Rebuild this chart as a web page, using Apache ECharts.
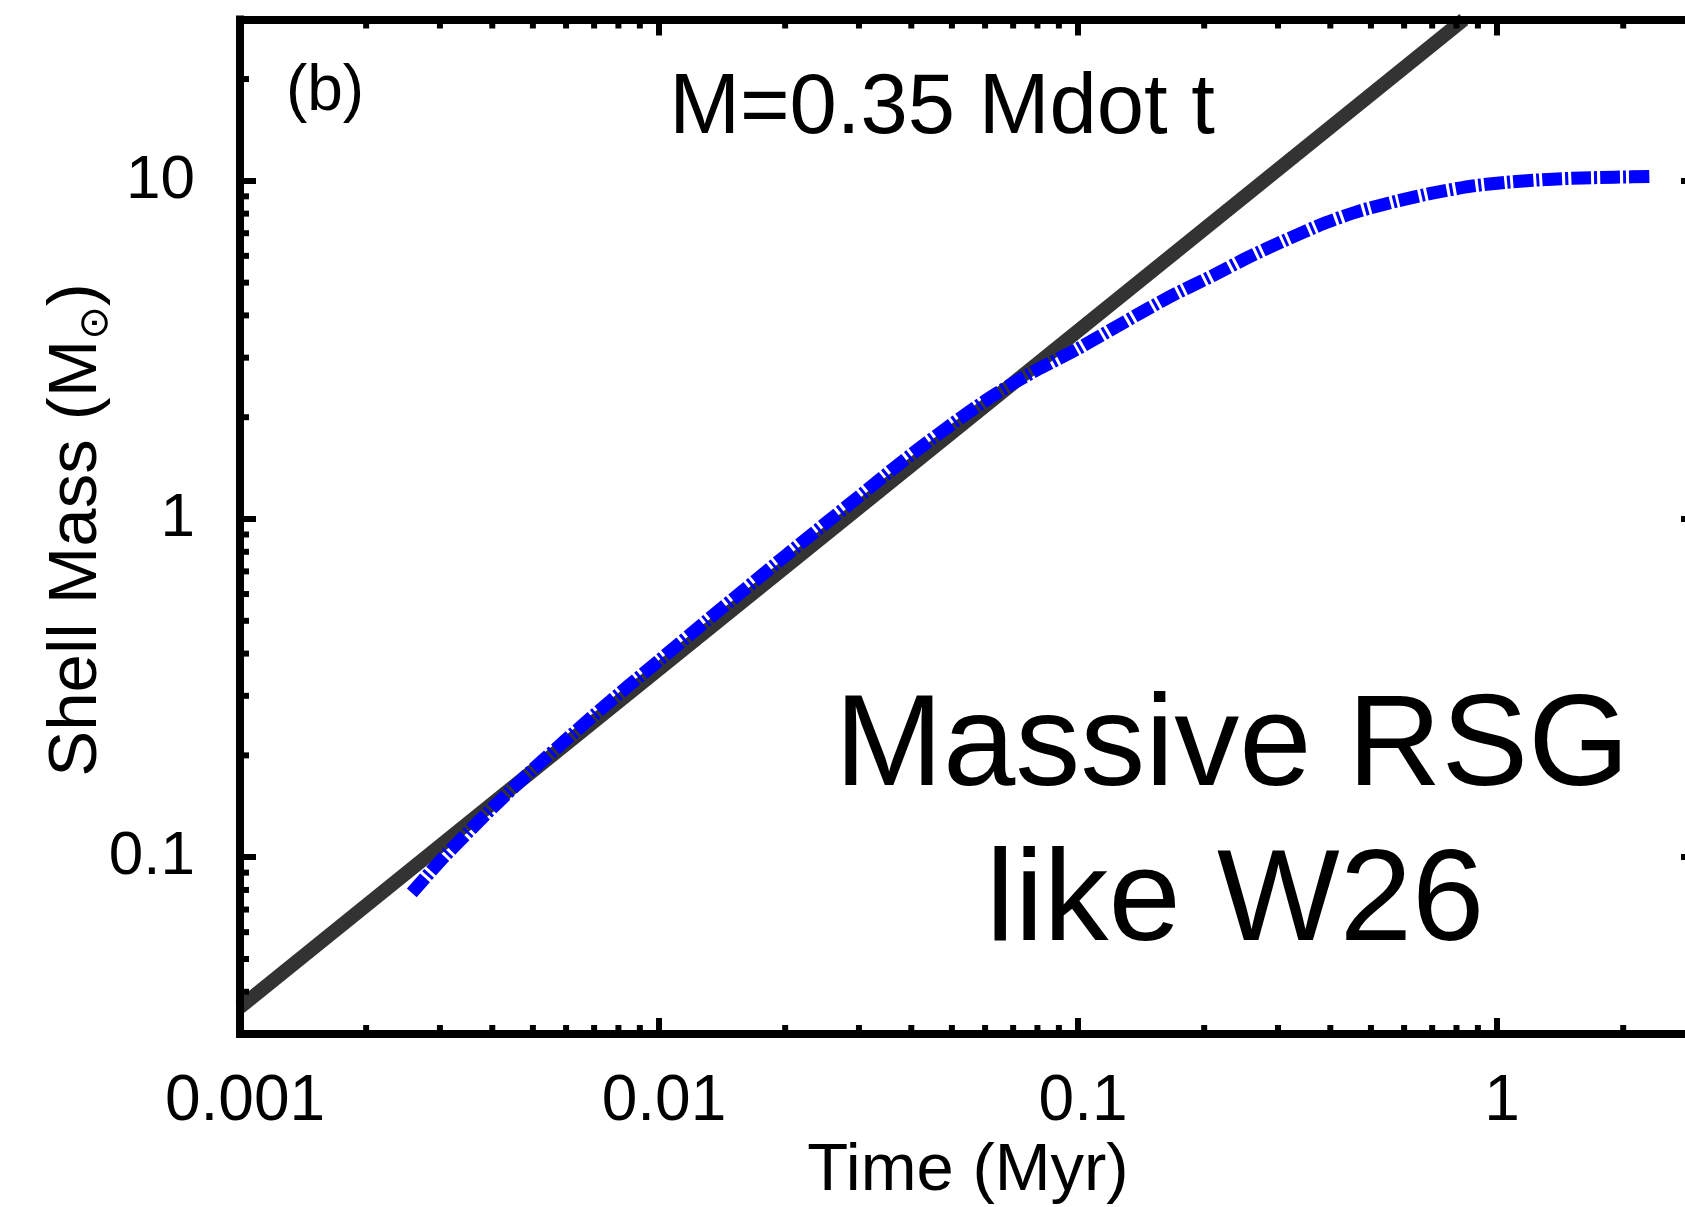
<!DOCTYPE html>
<html><head><meta charset="utf-8">
<script src="https://cdn.jsdelivr.net/npm/echarts@6/dist/echarts.min.js"></script>
<style>html,body{margin:0;padding:0;background:#fff}#c{width:1685px;height:1207px}</style>
</head><body><div id="c"></div>
<script>
const FONT = '"Liberation Sans", Arial, Helvetica, sans-serif';

// axis ranges and tick labels
const X_MIN = 0.001, X_MAX = 3;
const Y_MIN = 0.03, Y_MAX = 30;
const xTickValues = [0.001, 0.01, 0.1, 1];
const xTickLabels = ['0.001', '0.01', '0.1', '1'];
const yTickValues = [0.1, 1, 10];
const yTickLabels = ['0.1', '1', '10'];
const xMinorTicks = [0.002,0.003,0.004,0.005,0.006,0.007,0.008,0.009,
                     0.02,0.03,0.04,0.05,0.06,0.07,0.08,0.09,
                     0.2,0.3,0.4,0.5,0.6,0.7,0.8,0.9,
                     2];
const yMinorTicks = [0.04,0.05,0.06,0.07,0.08,0.09,
                     0.2,0.3,0.4,0.5,0.6,0.7,0.8,0.9,
                     2,3,4,5,6,7,8,9,
                     20];

// model line M = 0.35 Mdot t
const fitTime = [0.001, 0.833];
const fitMass = [0.036, 30];

// simulated shell mass (blue dash-dot curve)
const shellTime = [0.00257,0.003,0.0035,0.004,0.005,0.006,0.007,0.0085,0.01,0.013,0.016,0.02,0.025,0.03,0.036,0.042,0.05,0.06,0.07,0.08,0.09,0.1,0.12,0.145,0.17,0.21,0.256,0.31,0.387,0.47,0.58,0.7,0.876,1.05,1.32,1.6,1.9,2.34];
const shellMass = [0.0784,0.0972,0.1184,0.1397,0.1818,0.2225,0.2633,0.3228,0.3816,0.5008,0.6192,0.7776,0.972,1.166,1.40,1.625,1.908,2.236,2.52,2.765,2.98,3.19,3.63,4.15,4.62,5.25,5.96,6.65,7.49,8.15,8.73,9.2,9.66,9.9,10.1,10.2,10.25,10.3];

function lookup(vals, labels, v) {
  for (let i = 0; i < vals.length; i++) {
    if (Math.abs(Math.log10(vals[i]) - Math.log10(v)) < 1e-6) return labels[i];
  }
  return '';
}

const AXLINE = { show: true, lineStyle: { color: '#000', width: 8, cap: 'square' } };
const MAJ = { show: true, inside: true, length: 16, lineStyle: { color: '#000', width: 6 } };
const MINOR_LEN = 9, MINOR_W = 6;

const chart = echarts.init(document.getElementById('c'), null, { renderer: 'canvas' });
chart.setOption({
  animation: false,
  backgroundColor: '#fff',
  grid: { left: 240, top: 19.5, width: 1457, height: 1014.5, containLabel: false, outerBoundsMode: 'none' },
  xAxis: [
    { type: 'log', logBase: 10, min: X_MIN, max: X_MAX, position: 'bottom', z: 5,
      axisLine: AXLINE, axisTick: MAJ, splitLine: { show: false },
      axisLabel: { show: true, margin: 36, color: '#000', fontSize: 64, fontFamily: FONT,
        padding: [0, 0, 0, 10],
        showMaxLabel: false, formatter: v => lookup(xTickValues, xTickLabels, v) } },
    { type: 'log', logBase: 10, min: X_MIN, max: X_MAX, position: 'top', z: 5,
      axisLine: AXLINE, axisTick: MAJ, splitLine: { show: false }, axisLabel: { show: false } }
  ],
  yAxis: [
    { type: 'log', logBase: 10, min: Y_MIN, max: Y_MAX, position: 'left', z: 5,
      axisLine: AXLINE, axisTick: MAJ, splitLine: { show: false },
      axisLabel: { show: true, margin: 45, color: '#000', fontSize: 62, fontFamily: FONT,
        showMinLabel: false, showMaxLabel: false, formatter: v => lookup(yTickValues, yTickLabels, v) } },
    { type: 'log', logBase: 10, min: Y_MIN, max: Y_MAX, position: 'right', z: 5,
      axisLine: AXLINE, axisTick: MAJ, splitLine: { show: false }, axisLabel: { show: false } }
  ],
  series: [
    { type: 'line', xAxisIndex: 0, yAxisIndex: 0, z: 2, showSymbol: false, silent: true,
      data: fitTime.map((t, i) => [t, fitMass[i]]),
      lineStyle: { color: '#333333', width: 14, cap: 'butt' } },
    { type: 'line', xAxisIndex: 0, yAxisIndex: 0, z: 3, showSymbol: false, silent: true, smooth: 0.2,
      data: shellTime.map((t, i) => [t, shellMass[i]]),
      lineStyle: { color: '#0000ff', width: 13, type: [20, 3, 3, 3], cap: 'butt' } },
    { type: 'custom', xAxisIndex: 0, yAxisIndex: 0, z: 10, silent: true, clip: false,
      data: xMinorTicks.map(v => [v, Y_MIN]),
      renderItem: (params, api) => {
        const x = api.value(0);
        const b = api.coord([x, Y_MIN]), t = api.coord([x, Y_MAX]);
        const st = { stroke: '#000', lineWidth: MINOR_W };
        return { type: 'group', children: [
          { type: 'line', shape: { x1: b[0], y1: b[1], x2: b[0], y2: b[1] - MINOR_LEN }, style: st },
          { type: 'line', shape: { x1: t[0], y1: t[1], x2: t[0], y2: t[1] + MINOR_LEN }, style: st }
        ] };
      } },
    { type: 'custom', xAxisIndex: 0, yAxisIndex: 0, z: 10, silent: true, clip: false,
      data: yMinorTicks.map(v => [X_MIN, v]),
      renderItem: (params, api) => {
        const y = api.value(1);
        const l = api.coord([X_MIN, y]), r = api.coord([X_MAX, y]);
        const st = { stroke: '#000', lineWidth: MINOR_W };
        return { type: 'group', children: [
          { type: 'line', shape: { x1: l[0], y1: l[1], x2: l[0] + MINOR_LEN, y2: l[1] }, style: st },
          { type: 'line', shape: { x1: r[0], y1: r[1], x2: r[0] - MINOR_LEN, y2: r[1] }, style: st }
        ] };
      } }
  ],
  graphic: [
    { type: 'text', x: 325, y: 92, z: 20, style: { text: '(b)', font: '64px ' + FONT, fill: '#000', align: 'center', verticalAlign: 'middle' } },
    { type: 'text', x: 942, y: 110, z: 20, style: { text: 'M=0.35 Mdot t', font: '85px ' + FONT, fill: '#000', align: 'center', verticalAlign: 'middle' } },
    { type: 'text', x: 1232, y: 749, z: 20, style: { text: 'Massive RSG', font: '130px ' + FONT, fill: '#000', align: 'center', verticalAlign: 'middle' } },
    { type: 'text', x: 1235, y: 904, z: 20, style: { text: 'like W26', font: '130px ' + FONT, fill: '#000', align: 'center', verticalAlign: 'middle' } },
    { type: 'text', x: 968, y: 1172, z: 20, style: { text: 'Time (Myr)', font: '67px ' + FONT, fill: '#000', align: 'center', verticalAlign: 'middle' } },
    { type: 'text', x: 77, y: 530, rotation: Math.PI / 2, z: 20,
      style: { text: '{a|Shell Mass (M}{s|⊙}{a|)}', align: 'center', verticalAlign: 'middle', fill: '#000',
        rich: {
          a: { fontSize: 69, fontFamily: FONT, lineHeight: 80, verticalAlign: 'middle', fill: '#000' },
          s: { fontSize: 40, fontFamily: '"DejaVu Sans", sans-serif', lineHeight: 42, verticalAlign: 'bottom', fill: '#000' }
        } } }
  ]
});
</script></body></html>
